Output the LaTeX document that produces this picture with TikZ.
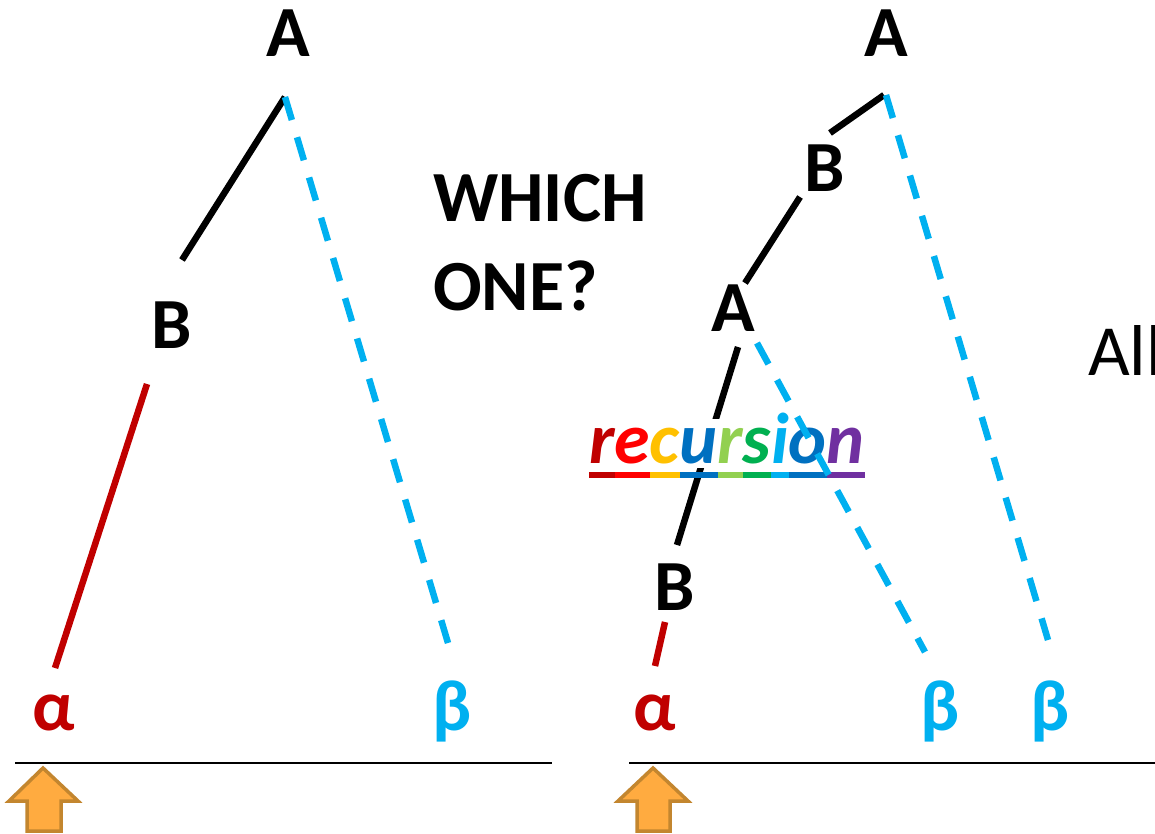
\documentclass[tikz,border=0pt]{standalone}
\usepackage{fontspec}
\setmainfont{Carlito}
\definecolor{dred}{HTML}{C00000}
\definecolor{bred}{HTML}{FF0000}
\definecolor{gold}{HTML}{FFC000}
\definecolor{dblue}{HTML}{0070C0}
\definecolor{lgreen}{HTML}{92D050}
\definecolor{dgreen}{HTML}{00B050}
\definecolor{lblue}{HTML}{00B0F0}
\definecolor{purp}{HTML}{7030A0}
\definecolor{arrfill}{HTML}{FFAB40}
\definecolor{arrline}{HTML}{C3862F}
\newcommand\rlet[2]{{\color{#1}\setbox0\hbox{#2}\rlap{\rule[-15pt]{\wd0}{6pt}}\box0}}
\begin{document}
\begin{tikzpicture}[x=1pt,y=-1pt,
  big/.style={font=\fontsize{72}{86}\selectfont\bfseries, inner sep=0pt, anchor=base},
  plain/.style={font=\fontsize{72}{86}\selectfont, inner sep=0pt, anchor=base west},
  solidedge/.style={line width=6.5pt, draw=black},
  redge/.style={line width=6.5pt, draw=dred},
  cedge/.style={line width=6.5pt, draw=lblue, dash pattern=on 24pt off 18pt},
  floor/.style={line width=2.5pt, draw=black},
  uparrow/.style={fill=arrfill, draw=arrline, line width=3.5pt, line join=miter}]
\useasboundingbox (0,0) rectangle (1155,834);

% ---------- left tree ----------
\node[big] (lA) at (288,57) {A};
\node[big] (lB) at (172,348) {B};
\node[big, text=dred] (lalpha) at (54,730) {α};
\node[big, text=lblue] (lbeta) at (452,730) {β};
\coordinate (lA1) at (285,97);
\coordinate (lB1) at (182,260);
\coordinate (lB2) at (147,384);
\coordinate (la1) at (55,668);
\coordinate (lb1) at (448,643);
\draw[solidedge] (lA1) -- (lB1);
\draw[cedge] (lA1) -- (lb1);
\draw[redge] (lB2) -- (la1);

\node[big, anchor=base west] (which) at (433,222) {WHICH};
\node[big, anchor=base west] (one) at (433,310) {ONE?};

\coordinate (lf1) at (15,763);
\coordinate (lf2) at (552,763);
\draw[floor] (lf1) -- (lf2);
\draw[uparrow] (43,768) -- (78,801) -- (61,801) -- (61,831) -- (27,831) -- (27,801) -- (9,801) -- cycle;

% ---------- right tree ----------
\node[big] (rA) at (886,57) {A};
\node[big] (rB) at (825,192) {B};
\node[big] (rA2) at (733,331) {A};
\node[big] (rB2) at (675,610) {B};
\node[big, text=dred] (ralpha) at (655,730) {α};
\node[big, text=lblue] (rbeta1) at (940,730) {β};
\node[big, text=lblue] (rbeta2) at (1050,730) {β};

\coordinate (rA1) at (884,95);
\coordinate (rB1t) at (830,133);
\coordinate (rB1b) at (800,197);
\coordinate (rA2t) at (745,283);
\coordinate (rA2b) at (738,347);
\coordinate (rB2t) at (677,545);
\coordinate (rB2b) at (665,622);
\coordinate (ra1) at (655,666);
\coordinate (rA2r) at (757,343);
\coordinate (rb1) at (925,652);
\coordinate (rAr) at (886,95);
\coordinate (rb2) at (1048,640);

\draw[solidedge] (rA1) -- (rB1t);
\draw[solidedge] (rB1b) -- (rA2t);
\draw[solidedge] (rA2b) -- (rB2t);
\draw[redge] (rB2b) -- (ra1);

\coordinate (recbg1) at (586,419);
\coordinate (recbg2) at (872,468);
\fill[white] (recbg1) rectangle (recbg2);
\node[font=\fontsize{72}{86}\selectfont\bfseries\itshape, inner sep=0pt, anchor=base west] (rec) at (589,463)
  {\rlet{dred}{r}\rlet{bred}{e}\rlet{gold}{c}\rlet{dblue}{u}\rlet{lgreen}{r}\rlet{dgreen}{s}\rlet{lblue}{i}\rlet{dblue}{o}\rlet{purp}{n}};

\draw[cedge] (rA2r) -- (rb1);
\draw[cedge] (rAr) -- (rb2);

\coordinate (rf1) at (629,763);
\coordinate (rf2) at (1160,763);
\draw[floor] (rf1) -- (rf2);
\draw[uparrow] (653,768) -- (688,801) -- (670,801) -- (670,831) -- (637,831) -- (637,801) -- (618,801) -- cycle;

\node[plain] (all) at (1088,375) {All};
\end{tikzpicture}
\end{document}
